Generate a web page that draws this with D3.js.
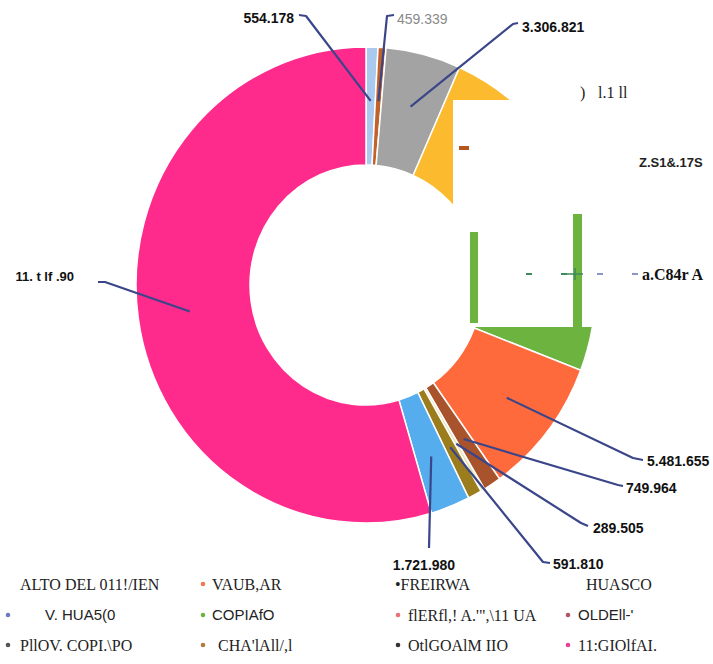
<!DOCTYPE html>
<html lang="es">
<head>
<meta charset="UTF-8">
<title>Donut</title>
<script src="https://d3js.org/d3.v7.min.js"></script>
<style>
  body { margin: 0; background: #fff; }
</style>
</head>
<body>
<svg width="713" height="664" id="chart"></svg>
<script>
// slices, clockwise from 12 o'clock
var sliceIds = ["s0", "s1", "s2", "s3", "s4", "s5", "s6", "s7", "s8", "s9", "s10"];
var sliceValues = [174, 116, 1102, 2552, 2494, 1943, 261, 58, 203, 580, 11397];
var valueLabels = ["554.178", "459.339", "3.306.821", "Z.S1&.17S", "a.C84r A", "5.481.655",
                   "749.964", "289.505", "591.810", "1.721.980", "11. t lf .90"];
var legendNames = ["ALTO DEL 011!/IEN", "VAUB,AR", "\u2022FREIRWA", "HUASCO",
                   "V. HUA5(0", "COPIAfO", "flERfl,! A.'\",\\11 UA", "OLDEll-'",
                   "PllOV. COPI.\\PO", "CHA'lAll/,l", "OtlGOAlM IIO", "11:GIOlfAI."];

var svg = d3.select("#chart"),
    cx = 366, cy = 285,
    sy = 1.035,
    outerRadius = 230,
    innerRadius = 116;

var color = d3.scaleOrdinal()
    .domain(sliceIds)
    .range(["#a9c9ee", "#c2622b", "#a3a3a3", "#fcbb2e", "#6db33f", "#ff6a3d",
            "#a9532d", "#ebe3b8", "#9c7d1e", "#55adee", "#fe2a8c"]);

var pie = d3.pie().sort(null).value(d => d)(sliceValues);

var arc = d3.arc()
    .innerRadius(innerRadius)
    .outerRadius(outerRadius);

// donut
svg.append("g")
    .attr("transform", "translate(" + cx + "," + cy + ") scale(1," + sy + ")")
    .selectAll("path")
    .data(pie)
    .join("path")
    .attr("fill", (d, i) => color(sliceIds[i]))
    .attr("stroke", "#fff")
    .attr("stroke-width", 1.5)
    .attr("vector-effect", "non-scaling-stroke")
    .attr("d", arc);

// white patch covering the right side (as in the scan)
svg.append("rect")
    .attr("x", 453).attr("y", 100)
    .attr("width", 260).attr("height", 227)
    .attr("fill", "#fff");

svg.append("rect").attr("x", 470).attr("y", 232).attr("width", 8).attr("height", 91).attr("fill", "#6db33f");
svg.append("rect").attr("x", 573).attr("y", 214).attr("width", 9).attr("height", 113).attr("fill", "#6db33f");
svg.append("rect").attr("x", 459).attr("y", 146).attr("width", 10).attr("height", 4).attr("fill", "#b5561f");

// dashes in front of the green label
var dashes = [[526, "#3d8a5a"], [561, "#3d8a5a"], [597, "#8a96c4"], [632, "#8a96c4"]];
svg.append("g").selectAll("rect")
    .data(dashes)
    .join("rect")
    .attr("x", d => d[0]).attr("y", 273)
    .attr("width", 6).attr("height", 2)
    .attr("fill", d => d[1]);
svg.append("path").attr("d", "M567,274H583M575,268V280").attr("stroke", "#3d8a5a").attr("stroke-width", 1.5);

// leader lines + value labels
var leaders = {
    0: { pts: [[306, 16], [299, 15]], x: 294, y: 18, anchor: "end" },
    1: { pts: [[387, 16], [394, 15]], x: 397, y: 19, anchor: "start", plain: true },
    2: { pts: [[513, 24], [518, 23]], x: 522, y: 27, anchor: "start" },
    5: { pts: [[633, 458], [643, 460]], x: 647, y: 461, anchor: "start" },
    6: { pts: [[618, 485], [623, 486]], x: 626, y: 488, anchor: "start" },
    7: { pts: [[581, 523], [588, 526]], x: 593, y: 528, anchor: "start" },
    8: { pts: [[543, 562], [550, 563]], x: 553, y: 564, anchor: "start" },
    9: { pts: [[429, 548]], x: 424, y: 565, anchor: "middle" },
    10: { pts: [[105, 282], [98, 282]], x: 74, y: 276, anchor: "end", size: 13 }
};

var lineR = 178;
var gl = svg.append("g");
Object.keys(leaders).forEach(function (k) {
    var d = pie[k], L = leaders[k];
    var a = (d.startAngle + d.endAngle) / 2;
    var p0 = [cx + lineR * Math.sin(a), cy - lineR * Math.cos(a) * sy];
    gl.append("path")
        .attr("d", d3.line()([p0].concat(L.pts)))
        .attr("fill", "none")
        .attr("stroke", "#3a4689")
        .attr("stroke-width", 2.2)
        .attr("stroke-linejoin", "round");
    gl.append("text")
        .attr("x", L.x).attr("y", L.y)
        .attr("dy", "0.35em")
        .attr("text-anchor", L.anchor)
        .attr("font-family", "Liberation Sans, Arial, sans-serif")
        .attr("font-size", L.size || 14)
        .attr("font-weight", L.plain ? "normal" : "bold")
        .attr("fill", L.plain ? "#8a8a8a" : "#111")
        .text(valueLabels[k]);
});

// labels sitting on the white patch
svg.append("text").attr("x", 639).attr("y", 162).attr("dy", "0.35em")
    .attr("font-family", "Liberation Sans, Arial, sans-serif")
    .attr("font-size", 13).attr("font-weight", "bold").attr("fill", "#222")
    .text(valueLabels[3]);
svg.append("text").attr("x", 642).attr("y", 274).attr("dy", "0.35em")
    .attr("font-family", "Liberation Serif, Times New Roman, serif")
    .attr("font-size", 16).attr("font-weight", "bold").attr("fill", "#111")
    .text(valueLabels[4]);
svg.append("text").attr("x", 580).attr("y", 92).attr("dy", "0.35em")
    .attr("font-family", "Liberation Serif, serif").attr("font-size", 16).attr("fill", "#222")
    .text(")");
svg.append("text").attr("x", 598).attr("y", 92).attr("dy", "0.35em")
    .attr("font-family", "Liberation Serif, serif").attr("font-size", 16).attr("fill", "#222")
    .text("l.1 ll");

// legend (3 rows x 4 columns)
var colX = [8, 203, 398, 568];
var rowY = [584, 615, 645];
var legendStyle = [
    { dot: null, tx: 20, serif: true }, { dot: "#f07a4c", tx: 212, serif: true },
    { dot: null, tx: 395, serif: true }, { dot: null, tx: 586, serif: true },
    { dot: "#6c7bbf", tx: 45, serif: false }, { dot: "#6db33f", tx: 212, serif: false },
    { dot: "#ec7077", tx: 408, serif: true }, { dot: "#b0565f", tx: 578, serif: false },
    { dot: "#555", tx: 20, serif: true }, { dot: "#b07a40", tx: 218, serif: true },
    { dot: "#333", tx: 408, serif: true }, { dot: "#e8409a", tx: 578, serif: true }
];

var legend = svg.append("g")
    .selectAll("g")
    .data(legendNames)
    .join("g")
    .attr("transform", (d, i) => "translate(0," + rowY[Math.floor(i / 4)] + ")");

legend.filter((d, i) => legendStyle[i].dot)
    .append("circle")
    .attr("cx", d => colX[legendNames.indexOf(d) % 4])
    .attr("r", 2.3)
    .attr("fill", d => legendStyle[legendNames.indexOf(d)].dot);

legend.append("text")
    .attr("x", (d, i) => legendStyle[i].tx)
    .attr("dy", "0.35em")
    .attr("font-family", (d, i) => legendStyle[i].serif ? "Liberation Serif, serif" : "Liberation Sans, Arial, sans-serif")
    .attr("font-size", (d, i) => legendStyle[i].serif ? 16 : 15)
    .attr("fill", "#222")
    .text(d => d);
</script>
</body>
</html>
